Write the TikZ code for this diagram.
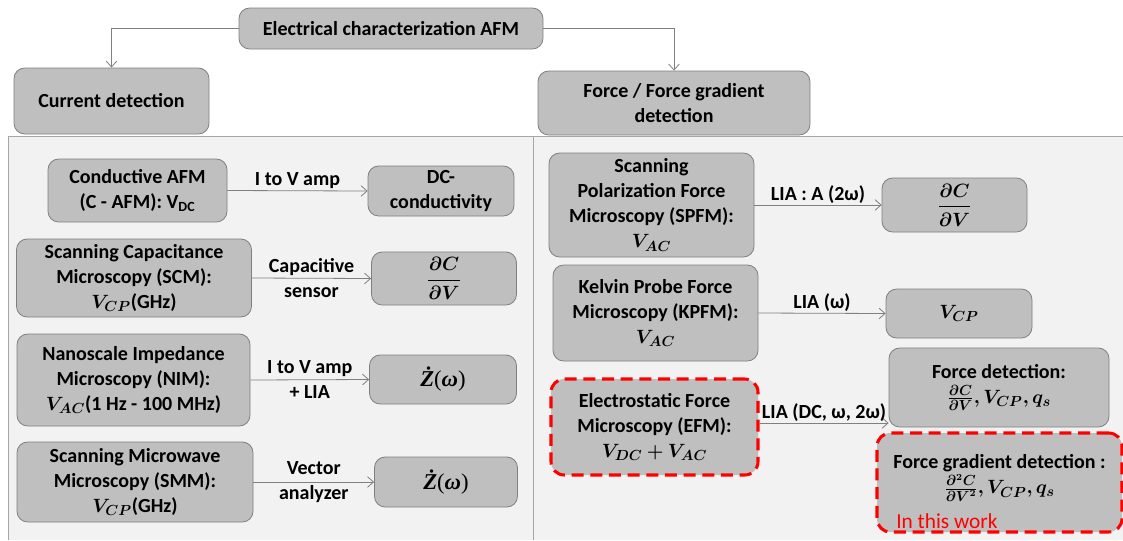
\documentclass[tikz,border=0pt]{standalone}
\usepackage{fontspec}
\setmainfont{Carlito}
\newfontfamily\serifm{Liberation Serif}
\usepackage{amsmath,bm}
\usetikzlibrary{arrows.meta}
\definecolor{boxfill}{HTML}{BFBFBF}
\definecolor{boxline}{HTML}{7F7F7F}
\definecolor{panelbg}{HTML}{F2F2F2}
\definecolor{panelline}{HTML}{A6A6A6}
\definecolor{arrowc}{HTML}{808080}
\definecolor{redd}{HTML}{FF0000}
\newcommand{\zdot}{{\serifm\fontsize{17}{20}\selectfont\bfseries\itshape Ż\normalfont\serifm(\bfseries\itshape ω\normalfont\serifm)}}
\tikzset{
  txt/.style={font=\fontsize{15}{18.75}\selectfont\bfseries, align=center},
  box/.style={txt, draw=boxline, fill=boxfill, line width=0.6pt, rounded corners=8pt, inner sep=0pt},
  redbox/.style={txt, draw=redd, fill=boxfill, line width=2.3pt, dash pattern=on 9pt off 5pt, rounded corners=10pt, inner sep=0pt},
  sz/.style 2 args={minimum width={#1*0.75pt}, minimum height={#2*0.75pt}},
  arr/.style={draw=arrowc, line width=0.6pt, -{Straight Barb[length=4.5pt,width=8pt]}},
  lbl/.style={txt, inner sep=1pt},
}
\begin{document}
\begin{tikzpicture}[x=0.75pt,y=-0.75pt]
\useasboundingbox (0,0) rectangle (1123,540);
% panels
\fill[panelbg] (8,136) rectangle (1123,540);
\draw[panelline, line width=0.6pt] (8,540) -- (8,136) -- (1123,136);
\draw[panelline, line width=0.6pt] (533,136) -- (533,540);

% top level
\node[box, sz={304}{41}] (title) at (391,28.5) {Electrical characterization AFM};
\node[box, sz={195}{66}] (cur) at (111.5,101) {Current detection};
\node[box, sz={272}{64}] (force) at (674,103) {Force / Force gradient\\detection};
\draw[arr] (title.west) -| (cur.north);
\draw[arr] (title.east) -| (force.north);

% left column
\node[box, sz={179}{63}] (cafm) at (137.5,190.5) {Conductive AFM\\(C - AFM): V\textsubscript{DC}};
\node[box, sz={146}{50}] (dc) at (441,191) {DC-\\conductivity};
\draw[arr] (cafm.east) -- node[lbl, above] (l1) {I to V amp} (dc.west);

\node[box, sz={235}{78}] (scm) at (134,278) {Scanning Capacitance\\Microscopy (SCM):\\$\bm{V_{CP}}$(GHz)};
\node[box, sz={145}{53}] (dcdv1) at (444,278.5) {$\bm{\dfrac{\partial C}{\partial V}}$};
\draw[arr] (scm.east) -- node[lbl] (l2) {Capacitive\\sensor} (dcdv1.west);

\node[box, sz={233}{92}] (nim) at (133.5,380) {Nanoscale Impedance\\Microscopy (NIM):\\$\bm{V_{AC}}$(1 Hz - 100 MHz)};
\node[box, sz={147}{49}] (z1) at (443,379.5) {\zdot};
\draw[arr] (nim.east) -- node[lbl] (l3) {I to V amp\\+ LIA} (z1.west);

\node[box, sz={236}{80}] (smm) at (135,482) {Scanning Microwave\\Microscopy (SMM):\\$\bm{V_{CP}}$(GHz)};
\node[box, sz={143}{50}] (z2) at (446,482) {\zdot};
\draw[arr] (smm.east) -- node[lbl] (l4) {Vector\\analyzer} (z2.west);

% right column
\node[box, sz={205}{104}] (spfm) at (651.5,205) {Scanning\\Polarization Force\\Microscopy (SPFM):\\$\bm{V_{AC}}$};
\node[box, sz={145}{54}] (dcdv2) at (954.5,205) {$\bm{\dfrac{\partial C}{\partial V}}$};
\draw[arr] (spfm.east) -- node[lbl, above] (l5) {LIA : A (2ω)} (dcdv2.west);

\node[box, sz={205}{96}] (kpfm) at (655.5,313) {Kelvin Probe Force\\Microscopy (KPFM):\\$\bm{V_{AC}}$};
\node[box, sz={146}{49}] (vcp) at (959,313.5) {$\bm{V_{CP}}$};
\draw[arr] (kpfm.east) -- node[lbl, above] (l6) {LIA (ω)} (vcp.west);

\node[redbox, sz={207}{96}] (efm) at (654.5,427) {Electrostatic Force\\Microscopy (EFM):\\$\bm{V_{DC}+V_{AC}}$};
\node[box, sz={220}{79}] (fd) at (999,387.5) {Force detection:\\$\bm{\frac{\partial C}{\partial V}, V_{CP}, q_s}$};
\draw[arr] ([yshift=3pt]efm.east) -- node[lbl, above] (l7) {LIA (DC, ω, 2ω)} ([yshift=3pt]efm.east -| fd.west);

\node[redbox, sz={245}{99}] (fgd) at (999.5,482.5) {};
\node[txt] (fgdtext) at (999.5,478) {Force gradient detection :\\$\bm{\frac{\partial^2 C}{\partial V^2}, V_{CP}, q_s}$};
\node[font=\fontsize{16}{18}\selectfont, text=redd, anchor=west, inner sep=0pt] (work) at (896,521) {In this work};
\end{tikzpicture}
\end{document}
